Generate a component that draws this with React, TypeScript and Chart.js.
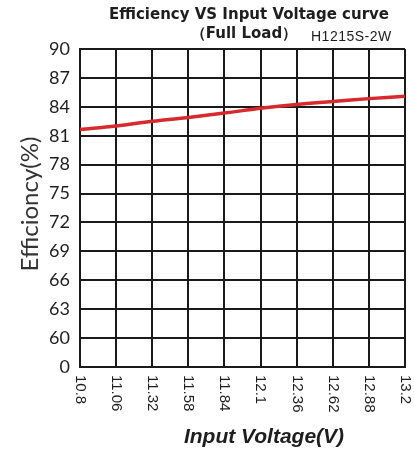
import React, { useEffect, useRef } from "react";
import { Chart, registerables } from "chart.js";

Chart.register(...registerables);

const voltageLabels = ["10.8", "11.06", "11.32", "11.58", "11.84", "12.1", "12.36", "12.62", "12.88", "13.2"];
const efficiency = [81.65, 82.0, 82.5, 82.9, 83.35, 83.85, 84.25, 84.55, 84.85, 85.1];
const yTickValues = [57, 60, 63, 66, 69, 72, 75, 78, 81, 84, 87, 90];
const yTickLabels = ["0", "60", "63", "66", "69", "72", "75", "78", "81", "84", "87", "90"];

const titleLine1 = "Efficiency VS Input Voltage curve";
const titleLine2 = "（Full Load）";
const modelName = "H1215S-2W";
const xTitle = "Input Voltage(V)";
const yTitle = "Efficioncy(%)";

const textPlugin = {
  id: "customText",
  afterDraw(chart: any) {
    const ctx = chart.ctx;
    const xs = chart.scales.x;
    const area = chart.chartArea;
    ctx.save();
    ctx.fillStyle = "#1e1e1e";
    // titles
    ctx.font = "bold 15px 'DejaVu Sans', sans-serif";
    ctx.textAlign = "center";
    ctx.textBaseline = "middle";
    ctx.fillText(titleLine1, 249, 15);
    ctx.fillText(titleLine2, 244, 34);
    ctx.font = "14px 'Liberation Sans', Arial, sans-serif";
    (ctx as any).letterSpacing = "0.5px";
    ctx.textAlign = "left";
    ctx.fillText(modelName, 311, 37);
    (ctx as any).letterSpacing = "0px";
    // x tick labels rotated clockwise
    ctx.font = "15px 'Liberation Sans', Arial, sans-serif";
    voltageLabels.forEach((lab, i) => {
      const px = xs.getPixelForTick(i);
      ctx.save();
      ctx.translate(px, area.bottom + 8);
      ctx.rotate(Math.PI / 2);
      ctx.textAlign = "left";
      ctx.textBaseline = "middle";
      ctx.fillText(lab, 0, 0);
      ctx.restore();
    });
    // x title
    ctx.font = "italic bold 21px 'Liberation Sans', Arial, sans-serif";
    ctx.textAlign = "center";
    ctx.textBaseline = "middle";
    ctx.fillText(xTitle, 264, 437);
    // y title
    ctx.save();
    ctx.translate(30, 204);
    ctx.rotate(-Math.PI / 2);
    ctx.font = "24px Lato, 'Open Sans', sans-serif";
    ctx.fillStyle = "#333";
    ctx.textAlign = "center";
    ctx.textBaseline = "middle";
    ctx.fillText(yTitle, 0, 0);
    ctx.restore();
    ctx.restore();
  },
};

export default function App() {
  const ref = useRef<HTMLCanvasElement | null>(null);
  useEffect(() => {
    document.body.style.margin = "0";
    const chart = new Chart(ref.current as HTMLCanvasElement, {
      type: "line",
      data: {
        labels: voltageLabels,
        datasets: [
          {
            data: efficiency,
            borderColor: "#d62a2e",
            borderWidth: 3.5,
            tension: 0.4,
            pointRadius: 0,
            fill: false,
          },
        ],
      },
      options: {
        animation: false,
        responsive: false,
        layout: { padding: { left: 0, top: 49, right: 9, bottom: 0 } },
        plugins: { legend: { display: false }, title: { display: false }, tooltip: { enabled: false } },
        scales: {
          x: {
            type: "category",
            offset: false,
            grid: { color: "#1a1a1a", lineWidth: 2, drawTicks: false, offset: false },
            border: { display: true, color: "#1a1a1a", width: 2 },
            ticks: { display: false },
            afterFit: (s: any) => {
              s.height = 87;
            },
          },
          y: {
            type: "linear",
            min: 57,
            max: 90,
            afterBuildTicks: (s: any) => {
              s.ticks = yTickValues.map((v) => ({ value: v }));
            },
            ticks: {
              padding: 10,
              color: "#1e1e1e",
              font: { family: "Lato, 'Open Sans', sans-serif", size: 18 },
              callback: (v: any) => {
                const i = yTickValues.indexOf(Number(v));
                return i >= 0 ? yTickLabels[i] : "";
              },
            },
            grid: { color: "#1a1a1a", lineWidth: 2, drawTicks: false },
            border: { display: true, color: "#1a1a1a", width: 2 },
            afterFit: (s: any) => {
              s.width = 80;
            },
          },
        },
      },
      plugins: [textPlugin],
    });
    return () => chart.destroy();
  }, []);
  return (
    <div style={{ width: 414, height: 454, background: "#fff" }}>
      <canvas ref={ref} width={414} height={454} style={{ display: "block" }} />
    </div>
  );
}
